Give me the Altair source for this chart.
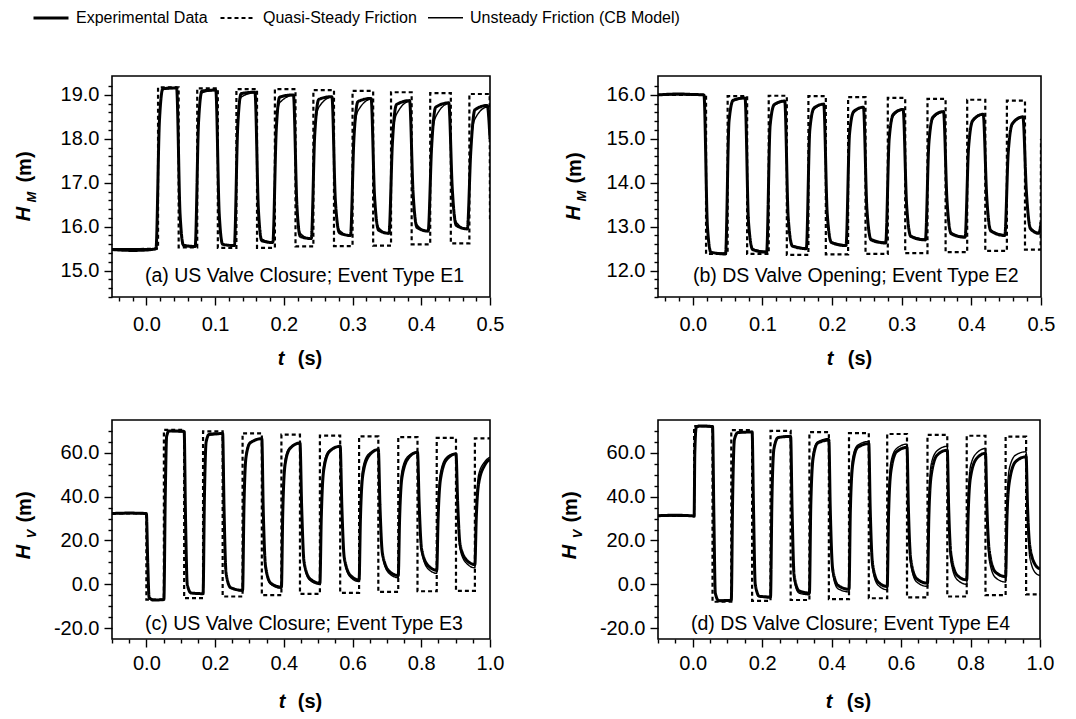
import altair as alt
import pandas as pd

FONT = "Liberation Sans"
SERIES = ["Experimental Data", "Quasi-Steady Friction", "Unsteady Friction (CB Model)"]
DASHES = [[1, 0], [4, 3], [1, 0]]
WIDTHS = [3.0, 1.4, 1.1]

PANEL_LABELS = [
    "(a) US Valve Closure; Event Type E1",
    "(b) DS Valve Opening; Event Type E2",
    "(c) US Valve Closure; Event Type E3",
    "(d) DS Valve Closure; Event Type E4",
]

# ---------------- Panel (a) ----------------
A_EXP = [
    (-0.050, 15.48), (-0.020, 15.46), (0.000, 15.47), (0.014, 15.50),
    (0.019, 18.40), (0.024, 19.14), (0.044, 19.16), (0.049, 16.30), (0.054, 15.58), (0.071, 15.55),
    (0.076, 18.40), (0.081, 19.09), (0.101, 19.11), (0.106, 16.30), (0.111, 15.60), (0.128, 15.57),
    (0.133, 18.30), (0.138, 19.03), (0.158, 19.06), (0.163, 16.40), (0.168, 15.68), (0.184, 15.64),
    (0.189, 18.20), (0.194, 18.95), (0.214, 19.00), (0.219, 16.50), (0.224, 15.78), (0.240, 15.73),
    (0.245, 18.10), (0.251, 18.90), (0.270, 18.96), (0.275, 16.60), (0.281, 15.86), (0.297, 15.80),
    (0.302, 18.00), (0.308, 18.85), (0.327, 18.92), (0.332, 16.70), (0.338, 15.92), (0.353, 15.85),
    (0.358, 17.90), (0.364, 18.78), (0.383, 18.87), (0.388, 16.80), (0.394, 15.98), (0.410, 15.90),
    (0.415, 17.80), (0.421, 18.72), (0.440, 18.82), (0.445, 16.90), (0.451, 16.03), (0.467, 15.95),
    (0.472, 17.70), (0.478, 18.66), (0.496, 18.76), (0.500, 18.00),
]
A_QS = [
    (-0.050, 15.48), (0.017, 15.50), (0.017, 19.17), (0.047, 19.17), (0.047, 15.53),
    (0.074, 15.53), (0.074, 19.15), (0.104, 19.15), (0.104, 15.52),
    (0.131, 15.52), (0.131, 19.13), (0.161, 19.13), (0.161, 15.52),
    (0.187, 15.52), (0.187, 19.13), (0.217, 19.13), (0.217, 15.55),
    (0.243, 15.55), (0.243, 19.11), (0.273, 19.11), (0.273, 15.56),
    (0.300, 15.56), (0.300, 19.09), (0.330, 19.09), (0.330, 15.57),
    (0.356, 15.57), (0.356, 19.06), (0.386, 19.06), (0.386, 15.60),
    (0.413, 15.60), (0.413, 19.04), (0.443, 19.04), (0.443, 15.62),
    (0.470, 15.62), (0.470, 19.02), (0.4995, 19.02), (0.500, 16.10),
]
A_UNS = [
    (-0.050, 15.50), (0.014, 15.50),
    (0.019, 18.50), (0.024, 19.12), (0.044, 19.15), (0.049, 16.20), (0.054, 15.55), (0.071, 15.55),
    (0.076, 18.50), (0.081, 19.05), (0.101, 19.10), (0.106, 16.20), (0.111, 15.60), (0.128, 15.58),
    (0.133, 18.40), (0.138, 18.95), (0.158, 19.05), (0.163, 16.30), (0.168, 15.72), (0.184, 15.65),
    (0.189, 18.30), (0.194, 18.82), (0.214, 18.99), (0.219, 16.40), (0.224, 15.85), (0.240, 15.72),
    (0.245, 18.20), (0.251, 18.72), (0.270, 18.95), (0.275, 16.50), (0.281, 15.92), (0.297, 15.79),
    (0.302, 18.10), (0.308, 18.64), (0.327, 18.90), (0.332, 16.60), (0.338, 15.98), (0.353, 15.84),
    (0.358, 18.00), (0.364, 18.56), (0.383, 18.85), (0.388, 16.70), (0.394, 16.04), (0.410, 15.89),
    (0.415, 17.90), (0.421, 18.50), (0.440, 18.80), (0.445, 16.80), (0.451, 16.10), (0.467, 15.94),
    (0.472, 17.80), (0.478, 18.45), (0.496, 18.72), (0.500, 18.00),
]

# ---------------- Panel (b) ----------------
B_EXP = [
    (-0.050, 16.00), (-0.020, 16.02), (0.000, 16.01), (0.016, 16.00),
    (0.021, 13.00), (0.026, 12.42), (0.047, 12.38),
    (0.052, 15.40), (0.058, 15.88), (0.075, 15.93),
    (0.080, 13.10), (0.086, 12.48), (0.106, 12.42),
    (0.111, 15.30), (0.117, 15.78), (0.132, 15.86),
    (0.137, 13.20), (0.143, 12.56), (0.163, 12.50),
    (0.168, 15.20), (0.174, 15.70), (0.188, 15.79),
    (0.193, 13.30), (0.199, 12.64), (0.220, 12.57),
    (0.225, 15.10), (0.231, 15.62), (0.245, 15.72),
    (0.250, 13.40), (0.256, 12.70), (0.277, 12.63),
    (0.282, 15.00), (0.288, 15.56), (0.302, 15.67),
    (0.307, 13.50), (0.313, 12.78), (0.334, 12.70),
    (0.339, 14.90), (0.345, 15.50), (0.360, 15.62),
    (0.365, 13.60), (0.371, 12.84), (0.391, 12.76),
    (0.396, 14.80), (0.402, 15.42), (0.417, 15.56),
    (0.422, 13.70), (0.428, 12.90), (0.448, 12.80),
    (0.453, 14.70), (0.459, 15.35), (0.474, 15.50),
    (0.479, 13.80), (0.485, 12.95), (0.497, 12.85), (0.500, 13.10),
]
B_QS = [
    (-0.050, 16.00), (0.019, 16.00), (0.019, 12.38), (0.050, 12.38), (0.050, 15.97),
    (0.078, 15.97), (0.078, 12.38), (0.109, 12.38), (0.109, 15.98),
    (0.135, 15.98), (0.135, 12.36), (0.166, 12.36), (0.166, 15.97),
    (0.191, 15.97), (0.191, 12.37), (0.223, 12.37), (0.223, 15.95),
    (0.248, 15.95), (0.248, 12.38), (0.280, 12.38), (0.280, 15.93),
    (0.305, 15.93), (0.305, 12.40), (0.337, 12.40), (0.337, 15.91),
    (0.363, 15.91), (0.363, 12.42), (0.394, 12.42), (0.394, 15.89),
    (0.420, 15.89), (0.420, 12.45), (0.451, 12.45), (0.451, 15.87),
    (0.477, 15.87), (0.477, 12.48), (0.4995, 12.48), (0.500, 15.00),
]
B_UNS = [
    (-0.050, 16.00), (0.016, 16.00),
    (0.021, 13.00), (0.026, 12.42), (0.047, 12.40),
    (0.052, 15.40), (0.058, 15.86), (0.075, 15.92),
    (0.080, 13.10), (0.086, 12.50), (0.106, 12.44),
    (0.111, 15.30), (0.117, 15.76), (0.132, 15.85),
    (0.137, 13.20), (0.143, 12.58), (0.163, 12.52),
    (0.168, 15.20), (0.174, 15.67), (0.188, 15.78),
    (0.193, 13.30), (0.199, 12.66), (0.220, 12.59),
    (0.225, 15.10), (0.231, 15.59), (0.245, 15.71),
    (0.250, 13.40), (0.256, 12.73), (0.277, 12.65),
    (0.282, 15.00), (0.288, 15.52), (0.302, 15.66),
    (0.307, 13.50), (0.313, 12.80), (0.334, 12.72),
    (0.339, 14.90), (0.345, 15.46), (0.360, 15.61),
    (0.365, 13.60), (0.371, 12.87), (0.391, 12.78),
    (0.396, 14.80), (0.402, 15.39), (0.417, 15.55),
    (0.422, 13.70), (0.428, 12.93), (0.448, 12.82),
    (0.453, 14.70), (0.459, 15.32), (0.474, 15.49),
    (0.479, 13.80), (0.485, 12.98), (0.497, 12.87), (0.500, 13.10),
]

# ---------------- Panel (c) ----------------
C_EXP = [
    (-0.100, 32.3), (-0.050, 32.5), (0.000, 32.3),
    (0.004, 10.0), (0.008, -6.0), (0.020, -7.2), (0.051, -7.0),
    (0.055, 40.0), (0.059, 67.5), (0.066, 70.0), (0.110, 69.8),
    (0.114, 30.0), (0.119, 0.0), (0.130, -4.0), (0.165, -4.3),
    (0.169, 40.0), (0.174, 65.0), (0.183, 68.5), (0.222, 68.8),
    (0.226, 35.0), (0.232, 5.0), (0.245, -1.5), (0.280, -2.8),
    (0.284, 35.0), (0.290, 58.0), (0.302, 64.5), (0.336, 66.5),
    (0.340, 35.0), (0.347, 8.0), (0.362, 0.5), (0.393, -1.3),
    (0.397, 33.0), (0.404, 55.0), (0.418, 62.0), (0.447, 64.5),
    (0.452, 35.0), (0.459, 10.0), (0.476, 2.5), (0.505, 0.5),
    (0.509, 30.0), (0.516, 52.0), (0.532, 60.5), (0.564, 63.0),
    (0.569, 35.0), (0.576, 12.0), (0.594, 4.0), (0.619, 2.0),
    (0.623, 30.0), (0.630, 50.0), (0.647, 58.5), (0.675, 61.5),
    (0.680, 35.0), (0.687, 14.0), (0.706, 6.0), (0.733, 4.0),
    (0.737, 30.0), (0.744, 49.0), (0.762, 57.5), (0.789, 60.3),
    (0.794, 36.0), (0.801, 16.0), (0.820, 8.5), (0.845, 6.4),
    (0.849, 30.0), (0.856, 48.0), (0.874, 57.0), (0.901, 59.5),
    (0.906, 37.0), (0.913, 18.0), (0.932, 11.0), (0.956, 9.0),
    (0.960, 30.0), (0.967, 46.0), (0.985, 54.5), (1.000, 57.0),
]
C_QS = [
    (-0.100, 32.3), (0.000, 32.3), (0.000, -7.0), (0.051, -7.0), (0.051, 70.5),
    (0.110, 70.5), (0.110, -6.3), (0.165, -6.3), (0.165, 69.8),
    (0.222, 69.8), (0.222, -5.6), (0.280, -5.6), (0.280, 68.9),
    (0.336, 68.9), (0.336, -5.0), (0.393, -5.0), (0.393, 68.3),
    (0.447, 68.3), (0.447, -4.4), (0.505, -4.4), (0.505, 67.9),
    (0.564, 67.9), (0.564, -3.9), (0.619, -3.9), (0.619, 67.5),
    (0.675, 67.5), (0.675, -3.5), (0.733, -3.5), (0.733, 67.2),
    (0.789, 67.2), (0.789, -3.2), (0.845, -3.2), (0.845, 66.8),
    (0.901, 66.8), (0.901, -3.0), (0.956, -3.0), (0.956, 66.6), (1.000, 66.6),
]
C_UNS = [
    (-0.100, 32.3), (0.000, 32.3),
    (0.004, 10.0), (0.008, -6.5), (0.020, -7.0), (0.051, -7.0),
    (0.055, 42.0), (0.059, 68.0), (0.066, 69.8), (0.110, 69.5),
    (0.114, 30.0), (0.119, 0.0), (0.130, -4.0), (0.165, -4.5),
    (0.169, 42.0), (0.174, 65.5), (0.183, 68.0), (0.222, 68.5),
    (0.226, 35.0), (0.232, 5.0), (0.245, -1.5), (0.280, -3.0),
    (0.284, 38.0), (0.290, 59.5), (0.302, 65.0), (0.336, 66.3),
    (0.340, 34.0), (0.347, 7.0), (0.362, 0.0), (0.393, -1.8),
    (0.397, 36.0), (0.404, 57.0), (0.418, 62.5), (0.447, 64.2),
    (0.452, 34.0), (0.459, 9.0), (0.476, 1.8), (0.505, 0.0),
    (0.509, 34.0), (0.516, 54.5), (0.532, 61.0), (0.564, 62.8),
    (0.569, 34.0), (0.576, 11.0), (0.594, 3.2), (0.619, 1.2),
    (0.623, 34.0), (0.630, 53.0), (0.647, 59.5), (0.675, 61.3),
    (0.680, 34.0), (0.687, 13.0), (0.706, 5.0), (0.733, 3.0),
    (0.737, 34.0), (0.744, 52.0), (0.762, 58.5), (0.789, 60.3),
    (0.794, 35.0), (0.801, 15.0), (0.820, 7.0), (0.845, 5.0),
    (0.849, 34.0), (0.856, 51.0), (0.874, 58.0), (0.901, 59.8),
    (0.906, 36.0), (0.913, 16.0), (0.932, 9.5), (0.956, 7.5),
    (0.960, 34.0), (0.967, 50.0), (0.985, 56.0), (1.000, 58.0),
]

# ---------------- Panel (d) ----------------
D_EXP = [
    (-0.100, 31.3), (-0.050, 31.5), (0.000, 31.2), (0.004, 31.0),
    (0.006, 60.0), (0.010, 71.5), (0.020, 72.3), (0.057, 72.0),
    (0.061, 30.0), (0.065, -4.0), (0.075, -7.5), (0.111, -7.3),
    (0.115, 40.0), (0.120, 66.0), (0.130, 69.3), (0.171, 69.5),
    (0.175, 35.0), (0.180, 0.0), (0.192, -5.5), (0.224, -5.8),
    (0.228, 38.0), (0.234, 62.0), (0.246, 67.0), (0.282, 67.5),
    (0.286, 35.0), (0.292, 4.0), (0.306, -3.0), (0.336, -4.0),
    (0.340, 36.0), (0.347, 58.0), (0.360, 64.5), (0.392, 65.8),
    (0.396, 35.0), (0.403, 7.0), (0.418, -0.5), (0.450, -2.3),
    (0.454, 34.0), (0.461, 55.0), (0.475, 62.5), (0.507, 64.2),
    (0.511, 35.0), (0.518, 9.0), (0.534, 1.0), (0.560, -1.0),
    (0.564, 32.0), (0.571, 52.0), (0.587, 60.5), (0.617, 62.5),
    (0.621, 35.0), (0.628, 11.0), (0.645, 2.5), (0.676, 0.5),
    (0.680, 31.0), (0.687, 50.0), (0.704, 59.0), (0.733, 61.2),
    (0.737, 35.0), (0.744, 13.0), (0.762, 4.0), (0.789, 2.0),
    (0.793, 31.0), (0.800, 49.0), (0.818, 57.5), (0.843, 59.8),
    (0.847, 36.0), (0.854, 15.0), (0.872, 5.5), (0.901, 3.5),
    (0.905, 31.0), (0.912, 47.0), (0.930, 56.0), (0.960, 58.2),
    (0.964, 36.0), (0.971, 17.0), (0.988, 8.5), (1.000, 7.0),
]
D_QS = [
    (-0.100, 31.3), (0.004, 31.2), (0.004, 72.2), (0.057, 72.2), (0.057, -8.0),
    (0.111, -8.0), (0.111, 70.4), (0.171, 70.4), (0.171, -7.6),
    (0.224, -7.6), (0.224, 70.0), (0.282, 70.0), (0.282, -7.2),
    (0.336, -7.2), (0.336, 69.5), (0.392, 69.5), (0.392, -6.8),
    (0.450, -6.8), (0.450, 69.0), (0.507, 69.0), (0.507, -6.4),
    (0.560, -6.4), (0.560, 68.6), (0.617, 68.6), (0.617, -6.0),
    (0.676, -6.0), (0.676, 68.2), (0.733, 68.2), (0.733, -5.6),
    (0.789, -5.6), (0.789, 67.8), (0.843, 67.8), (0.843, -5.0),
    (0.901, -5.0), (0.901, 67.4), (0.960, 67.4), (0.960, -4.6), (1.000, -4.6),
]
D_UNS = [
    (-0.100, 31.3), (0.004, 31.0),
    (0.006, 60.0), (0.010, 71.5), (0.020, 72.0), (0.057, 71.8),
    (0.061, 30.0), (0.065, -4.0), (0.075, -7.3), (0.111, -7.2),
    (0.115, 42.0), (0.120, 66.5), (0.130, 69.0), (0.171, 69.6),
    (0.175, 33.0), (0.180, -1.0), (0.192, -5.5), (0.224, -6.2),
    (0.228, 41.0), (0.234, 63.0), (0.246, 67.0), (0.282, 67.8),
    (0.286, 33.0), (0.292, 2.0), (0.306, -4.0), (0.336, -4.8),
    (0.340, 40.0), (0.347, 60.0), (0.360, 65.0), (0.392, 66.5),
    (0.396, 33.0), (0.403, 5.0), (0.418, -2.0), (0.450, -3.5),
    (0.454, 39.0), (0.461, 58.0), (0.475, 63.5), (0.507, 65.2),
    (0.511, 33.0), (0.518, 7.0), (0.534, -0.5), (0.560, -2.5),
    (0.564, 38.0), (0.571, 56.0), (0.587, 62.0), (0.617, 64.0),
    (0.621, 33.0), (0.628, 9.0), (0.645, 1.0), (0.676, -1.0),
    (0.680, 38.0), (0.687, 55.0), (0.704, 61.0), (0.733, 63.0),
    (0.737, 33.0), (0.744, 10.0), (0.762, 2.0), (0.789, 0.0),
    (0.793, 38.0), (0.800, 54.0), (0.818, 60.0), (0.843, 62.0),
    (0.847, 33.0), (0.854, 11.0), (0.872, 3.0), (0.901, 1.0),
    (0.905, 38.0), (0.912, 53.0), (0.930, 59.0), (0.960, 60.5),
    (0.964, 33.0), (0.971, 12.0), (0.988, 5.0), (1.000, 4.0),
]

# ---------------- Axis ticks ----------------
X_AB_TICKS = [round(-0.04 + 0.02 * i, 2) for i in range(28)]
Y_A_TICKS = [round(14.4 + 0.2 * i, 1) for i in range(25)]
Y_B_TICKS = [round(11.4 + 0.2 * i, 1) for i in range(25)]
X_CD_TICKS = [round(-0.1 + 0.05 * i, 2) for i in range(23)]
Y_CD_TICKS = [-20 + 5 * i for i in range(19)]

T_X_AB = "abs(datum.value*10 - round(datum.value*10)) < 0.001"
T_Y_AB = "abs(datum.value - round(datum.value)) < 0.001"
T_X_CD = "abs(datum.value*5 - round(datum.value*5)) < 0.001"
T_Y_CD = "abs(datum.value/20 - round(datum.value/20)) < 0.001"


def make_axis(values, test, pad):
    return alt.Axis(
        values=values, title=None, grid=False, domain=False,
        tickSize={"condition": {"test": test, "value": 8}, "value": 4},
        tickColor="black", tickWidth=1.4,
        labelExpr=f"({test}) ? replace(format(datum.value, '.1f'), '\u2212', '-') : ''",
        labelFont=FONT, labelFontSize=20, labelColor="black",
        labelPadding=pad, labelOverlap=False, labelFlush=False, labelBound=False,
    )


def text_layer(txt, x, y, size, weight="normal", style="normal", angle=0, align="center"):
    df = pd.DataFrame({"s": [txt]})
    return alt.Chart(df).mark_text(
        font=FONT, fontSize=size, fontWeight=weight, fontStyle=style,
        angle=angle, align=align, baseline="middle", color="black",
    ).encode(x=alt.value(x), y=alt.value(y), text="s:N")


def make_panel(exp, qs, uns, xdom, ydom, xt, xtest, yt, ytest, label, sub, w, h, lay, xpad):
    rows = []
    for name, pts in ((SERIES[0], exp), (SERIES[1], qs), (SERIES[2], uns)):
        for i, (t, v) in enumerate(pts):
            rows.append({"series": name, "i": i, "t": t, "h": v})
    df = pd.DataFrame(rows)
    base = alt.Chart(df).encode(
        x=alt.X("t:Q", scale=alt.Scale(domain=xdom, nice=False, zero=False),
                axis=make_axis(xt, xtest, xpad)),
        y=alt.Y("h:Q", scale=alt.Scale(domain=ydom, nice=False, zero=False),
                axis=make_axis(yt, ytest, 5)),
        strokeDash=alt.StrokeDash("series:N", scale=alt.Scale(domain=SERIES, range=DASHES),
                                  legend=alt.Legend(title=None)),
        strokeWidth=alt.StrokeWidth("series:N", scale=alt.Scale(domain=SERIES, range=WIDTHS),
                                    legend=alt.Legend(title=None)),
        order=alt.Order("i:Q"),
    )
    qs_l = base.transform_filter(alt.datum.series == SERIES[1]).mark_line(
        color="black", interpolate="linear", clip=True)
    exp_l = base.transform_filter(alt.datum.series == SERIES[0]).mark_line(
        color="black", interpolate="monotone", clip=True)
    uns_l = base.transform_filter(alt.datum.series == SERIES[2]).mark_line(
        color="black", interpolate="monotone", clip=True)
    layers = [
        qs_l, exp_l, uns_l,
        text_layer(label, lay["lx"], lay["ly"], 19.5, align="left"),
        text_layer("H", lay["hx"], lay["hy"], 20, "bold", "italic", 270),
        text_layer(sub, lay["sx"], lay["sy"], 13, "bold", "italic", 270),
        text_layer("(m)", lay["mx"], lay["my"], 20, "bold", "normal", 270),
        text_layer("t", lay["tx"], lay["ty"], 20, "bold", "italic"),
        text_layer("(s)", lay["px"], lay["ty"], 20, "bold", "normal"),
    ]
    return alt.layer(*layers).properties(width=w, height=h)


pa = make_panel(A_EXP, A_QS, A_UNS, [-0.05, 0.5], [14.4, 19.43], X_AB_TICKS, T_X_AB,
                Y_A_TICKS, T_Y_AB, PANEL_LABELS[0], "M", 378, 221,
                dict(lx=33, ly=200, hx=-88, hy=138, sx=-80, sy=121, mx=-87, my=91,
                     tx=169, ty=283, px=198), 9)
pb = make_panel(B_EXP, B_QS, B_UNS, [-0.05, 0.5], [11.4, 16.43], X_AB_TICKS, T_X_AB,
                Y_B_TICKS, T_Y_AB, PANEL_LABELS[1], "M", 383, 221,
                dict(lx=35, ly=200, hx=-84, hy=137, sx=-76, sy=120, mx=-83, my=92,
                     tx=172, ty=283, px=202), 9)
pc = make_panel(C_EXP, C_QS, C_UNS, [-0.1, 1.0], [-25, 75], X_CD_TICKS, T_X_CD,
                Y_CD_TICKS, T_Y_CD, PANEL_LABELS[2], "V", 378, 219,
                dict(lx=33, ly=204, hx=-88, hy=132, sx=-80, sy=114, mx=-87, my=87,
                     tx=170, ty=282, px=198), 6)
pd_ = make_panel(D_EXP, D_QS, D_UNS, [-0.1, 1.0], [-25, 75], X_CD_TICKS, T_X_CD,
                 Y_CD_TICKS, T_Y_CD, PANEL_LABELS[3], "V", 382, 219,
                 dict(lx=33, ly=204, hx=-88, hy=132, sx=-80, sy=114, mx=-87, my=87,
                      tx=171, ty=282, px=201), 6)

chart = (
    alt.concat(pa, pb, pc, pd_, columns=2, spacing={"row": 123, "column": 168}, bounds="flush")
    .resolve_scale(strokeDash="shared", strokeWidth="shared")
    .properties(padding={"left": 5, "top": -9, "right": 5, "bottom": 5}, background="white")
    .configure_view(stroke="black", strokeWidth=1.6)
    .configure_legend(
        orient="none", legendX=-80, legendY=-77, direction="horizontal",
        symbolType="stroke", symbolSize=1225, symbolStrokeColor="black",
        labelFont=FONT, labelFontSize=16, labelColor="black", labelOffset=6,
        labelLimit=400, columnPadding=8, padding=0,
    )
)

chart.save("out.html", embed_options={"renderer": "svg", "actions": False})
